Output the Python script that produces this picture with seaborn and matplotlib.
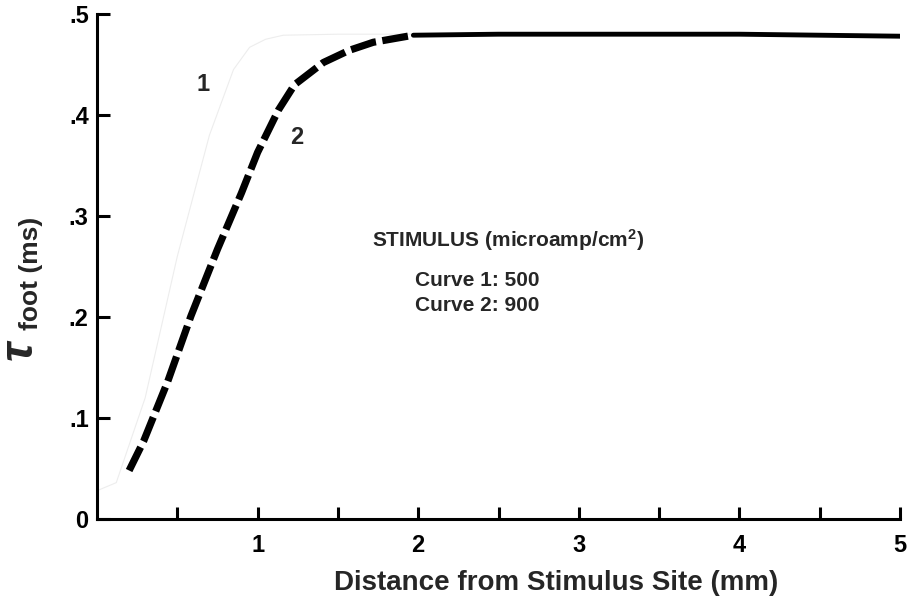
import numpy as np
import pandas as pd
import matplotlib
matplotlib.use("Agg")
import matplotlib.pyplot as plt
import seaborn as sns

# ---- data ----
curve2_x = [0.20, 0.29, 0.44, 0.585, 0.75, 0.90, 1.00, 1.13, 1.23, 1.41, 1.57, 1.72, 1.97]
curve2_y = [0.048, 0.077, 0.136, 0.201, 0.267, 0.323, 0.363, 0.405, 0.430, 0.452, 0.464, 0.472, 0.479]
curve2_flat_x = [1.97, 2.5, 3.0, 4.0, 5.0]
curve2_flat_y = [0.479, 0.480, 0.480, 0.480, 0.478]
curve1_x = [0.0, 0.12, 0.30, 0.50, 0.70, 0.85, 0.95, 1.05, 1.16, 1.5, 2.0, 5.0]
curve1_y = [0.028, 0.036, 0.12, 0.26, 0.38, 0.445, 0.467, 0.475, 0.479, 0.480, 0.480, 0.480]

x_ticks_major = [1, 2, 3, 4, 5]
x_ticks_minor = [0.5, 1.5, 2.5, 3.5, 4.5]
y_ticks = [0, 0.1, 0.2, 0.3, 0.4, 0.5]
y_tick_labels = ["0", ".1", ".2", ".3", ".4", ".5"]

stim_title = "STIMULUS (microamp/cm$^{\\mathbf{2}}$)"
stim_lines = ["Curve 1: 500", "Curve 2: 900"]

# ---- style ----
sns.set_theme(style="ticks")
plt.rcParams["font.family"] = ["Liberation Sans", "DejaVu Sans"]
plt.rcParams["font.weight"] = "bold"
plt.rcParams["mathtext.fontset"] = "custom"
plt.rcParams["mathtext.rm"] = "Liberation Sans:bold"
plt.rcParams["mathtext.bf"] = "Liberation Sans:bold"
plt.rcParams["mathtext.it"] = "Liberation Sans:italic:bold"

fig = plt.figure(figsize=(9.12, 5.99), dpi=100)
ax = fig.add_axes([97 / 912, 1 - 519 / 599, (900 - 97) / 912, (519 - 14) / 599])

df1 = pd.DataFrame({"x": curve1_x, "y": curve1_y})
df2 = pd.DataFrame({"x": curve2_x, "y": curve2_y})
df2f = pd.DataFrame({"x": curve2_flat_x, "y": curve2_flat_y})

sns.lineplot(data=df1, x="x", y="y", ax=ax, color="#ededed", lw=0.8,
             sort=False, estimator=None)
sns.lineplot(data=df2, x="x", y="y", ax=ax, color="black", lw=5.2,
             linestyle=(0, (3.6, 0.9)), sort=False, estimator=None,
             solid_capstyle="butt", dash_capstyle="butt")
sns.lineplot(data=df2f, x="x", y="y", ax=ax, color="black", lw=3.5,
             sort=False, estimator=None, solid_capstyle="round")

ax.set_xlim(0, 5)
ax.set_ylim(0, 0.5)
ax.set_xticks(x_ticks_major)
ax.set_xticks(x_ticks_minor, minor=True)
ax.set_yticks(y_ticks)
ax.set_yticklabels(y_tick_labels)

for s in ["top", "right"]:
    ax.spines[s].set_visible(False)
for s in ["left", "bottom"]:
    ax.spines[s].set_linewidth(2.2)
    ax.spines[s].set_color("black")

ax.tick_params(axis="both", which="both", direction="in", length=9, width=2.2,
               colors="black", labelsize=17)
ax.tick_params(axis="x", which="both", pad=11)
ax.tick_params(axis="y", pad=6)
for lab in ax.get_xticklabels() + ax.get_yticklabels():
    lab.set_fontweight("bold")

ax.set_xlabel("Distance from Stimulus Site (mm)", fontsize=20, fontweight="bold")
ax.xaxis.set_label_coords((556 - 97) / 803, (519 - 590) / 505)
ax.xaxis.label.set_verticalalignment("baseline")

# y label: large tau with "foot (ms)" beside it
ax.set_ylabel("")
fig.text(21 / 912, 1 - 350 / 599, r"$\tau$", fontsize=34, rotation=90,
         ha="center", va="center")
fig.text(31 / 912, 1 - 273 / 599, "foot (ms)", fontsize=19, fontweight="bold",
         rotation=90, ha="center", va="center")

ax.text(0.66, 0.43, "1", fontsize=17, fontweight="bold", ha="center", va="center")
ax.text(1.245, 0.378, "2", fontsize=17, fontweight="bold", ha="center", va="center")

ax.text(1.71, 0.276, stim_title, fontsize=15, fontweight="bold", ha="left", va="center")
ax.text(1.98, 0.236, stim_lines[0], fontsize=15, fontweight="bold", ha="left", va="center")
ax.text(1.98, 0.211, stim_lines[1], fontsize=15, fontweight="bold", ha="left", va="center")

fig.savefig("out.png", dpi=100, facecolor="white")
